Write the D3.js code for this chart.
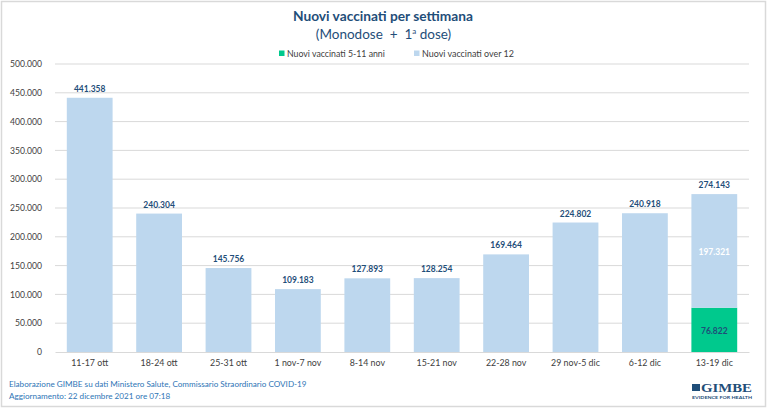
<!DOCTYPE html>
<html><head><meta charset="utf-8">
<script src="https://cdn.jsdelivr.net/npm/d3@7"></script>
<style>body{margin:0;background:#fff;} svg{display:block;font-family:Lato,"Open Sans",sans-serif;}</style>
</head><body>
<svg id="c" width="767" height="408"></svg>
<script>
const categories = ["11-17 ott","18-24 ott","25-31 ott","1 nov-7 nov","8-14 nov","15-21 nov","22-28 nov","29 nov-5 dic","6-12 dic","13-19 dic"];
const kids = [0,0,0,0,0,0,0,0,0,76822];
const over12 = [441358,240304,145756,109183,127893,128254,169464,224802,240918,197321];
const yTicks = [0,50000,100000,150000,200000,250000,300000,350000,400000,450000,500000];
const seriesNames = ["Nuovi vaccinati 5-11 anni","Nuovi vaccinati over 12"];
const colors = ["#00C98D","#BDD7EE"];

const svg = d3.select("#c");
const W=767,H=408;
svg.append("rect").attr("x",1.5).attr("y",1.5).attr("width",W-3).attr("height",H-3).attr("fill","#fff").attr("stroke","#D9D9D9").attr("stroke-width",1.5);

function fit(sel, target){
  const n = sel.node(); const fs = parseFloat(sel.attr("font-size"));
  const w = n.getComputedTextLength();
  if (w>0) sel.attr("font-size", (fs*target/w).toFixed(2));
  return sel;
}
function fitAll(all, ref, target){
  const fs = parseFloat(ref.attr("font-size"));
  const w = ref.node().getComputedTextLength();
  if (w>0) all.attr("font-size",(fs*target/w).toFixed(2));
}

const fmt = v => d3.format(",")(v).replace(/,/g,".");
const x = d3.scaleBand().domain(categories).range([55,749]).paddingInner(0.34).paddingOuter(0.17);
const y = d3.scaleLinear().domain([0,500000]).range([352,64]);

// grid
svg.append("g").selectAll("line").data(yTicks.slice(1)).join("line")
 .attr("x1",55).attr("x2",749).attr("y1",d=>y(d)).attr("y2",d=>y(d))
 .attr("stroke","#D9D9D9").attr("stroke-width",1);

// y axis labels
const ya = svg.append("g").attr("transform","translate(45,0)").call(d3.axisLeft(y).tickValues(yTicks).tickFormat(fmt).tickSize(0));
ya.select(".domain").remove();
ya.selectAll("text").attr("font-family","Lato,sans-serif").attr("font-size",9.5).attr("fill","#404040");
fitAll(ya.selectAll("text"), ya.selectAll("text").filter(d=>d===500000), 32);

// x axis
const xa = svg.append("g").attr("transform","translate(0,352)").call(d3.axisBottom(x).tickSize(0).tickPadding(8));
xa.select(".domain").attr("stroke","#D9D9D9");
xa.selectAll("text").attr("font-family","Lato,sans-serif").attr("font-size",10).attr("fill","#404040");
fitAll(xa.selectAll("text"), xa.selectAll("text").filter(d=>d===categories[0]), 37);

// bars
const data = categories.map((c,i)=>({c,k:kids[i],o:over12[i],t:kids[i]+over12[i]}));
svg.append("g").selectAll("rect.k").data(data).join("rect")
 .attr("x",d=>x(d.c)).attr("width",x.bandwidth())
 .attr("y",d=>y(d.k)).attr("height",d=>y(0)-y(d.k)).attr("fill",colors[0]);
svg.append("g").selectAll("rect.o").data(data).join("rect")
 .attr("x",d=>x(d.c)).attr("width",x.bandwidth())
 .attr("y",d=>y(d.t)).attr("height",d=>y(d.k)-y(d.t)).attr("fill",colors[1]);

// value labels
const lab = svg.append("g").attr("font-size",10).attr("font-weight","bold").attr("text-anchor","middle");
const tot = lab.selectAll("text.t").data(data).join("text").attr("class","t")
 .attr("x",d=>x(d.c)+x.bandwidth()/2).attr("y",d=>y(d.t)-6)
 .attr("font-size",10).attr("fill","#1F4E79").text(d=>fmt(d.t));
const st = data.filter(d=>d.k>0);
const inO = lab.selectAll("text.o").data(st).join("text").attr("class","o")
 .attr("x",d=>x(d.c)+x.bandwidth()/2).attr("y",d=>(y(d.k)+y(d.t))/2+4)
 .attr("font-size",10).attr("fill","#fff").text(d=>fmt(d.o));
const inK = lab.selectAll("text.k").data(st).join("text").attr("class","k")
 .attr("x",d=>x(d.c)+x.bandwidth()/2).attr("y",d=>(y(0)+y(d.k))/2+4)
 .attr("font-size",10).attr("fill","#1F4E79").text(d=>fmt(d.k));
fitAll(lab.selectAll("text"), tot.filter((d,i)=>i===9), 31.5);

// title
fit(svg.append("text").attr("x",383).attr("y",21).attr("text-anchor","middle").attr("font-size",14.5).attr("font-weight","bold").attr("fill","#1F4E79").text("Nuovi vaccinati per settimana"),180);
const sub = svg.append("text").attr("x",383.5).attr("y",39).attr("text-anchor","middle").attr("font-size",13.5).attr("fill","#1F4E79").attr("xml:space","preserve");
sub.append("tspan").text("(Monodose  +  1");
sub.append("tspan").attr("font-size",8).attr("dy",-5).text("a");
sub.append("tspan").attr("dy",5).text(" dose)");

// legend
const lx=[279,414], lw=[98,92];
seriesNames.forEach((n,i)=>{
  svg.append("rect").attr("x",lx[i]).attr("y",50.5).attr("width",5.5).attr("height",5.5).attr("fill",colors[i]);
  fit(svg.append("text").attr("x",lx[i]+8).attr("y",56.5).attr("font-size",10).attr("fill","#404040").text(n),lw[i]);
});

// footer
const f1 = fit(svg.append("text").attr("x",9).attr("y",387).attr("font-size",8.3).attr("fill","#2E75B6").text("Elaborazione GIMBE su dati Ministero Salute, Commissario Straordinario COVID-19"),298);
svg.append("text").attr("x",9).attr("y",399).attr("font-size",f1.attr("font-size")).attr("fill","#2E75B6").text("Aggiornamento: 22 dicembre 2021 ore 07:18");

// logo
const lgo = svg.append("g");
lgo.append("rect").attr("x",692).attr("y",384).attr("width",8).attr("height",7).attr("fill","#1F4E79");
lgo.append("text").attr("x",701).attr("y",392).attr("font-family","Liberation Serif,serif").attr("font-size",12.5).attr("font-weight","bold").attr("textLength",51).attr("lengthAdjust","spacingAndGlyphs").attr("fill","#1F4E79").text("GIMBE");
lgo.append("text").attr("x",692).attr("y",398.5).attr("textLength",60).attr("lengthAdjust","spacingAndGlyphs").attr("font-size",4.5).attr("font-weight","bold").attr("fill","#1F4E79").text("EVIDENCE FOR HEALTH");
</script>
</body></html>
